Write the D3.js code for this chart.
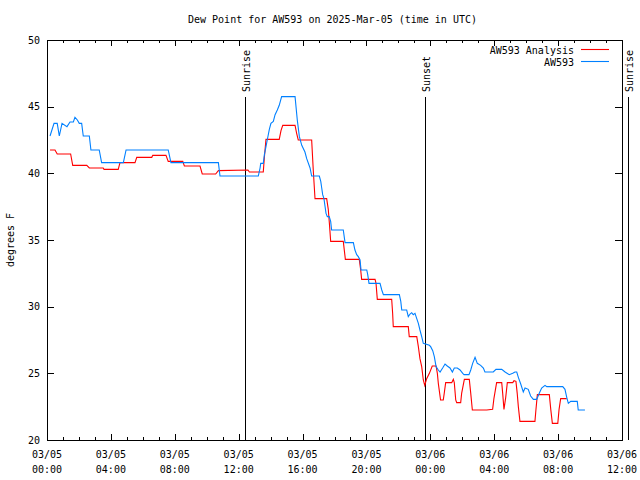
<!DOCTYPE html>
<html>
<head>
<meta charset="utf-8">
<script src="https://cdn.jsdelivr.net/npm/d3@7"></script>
<style>
  html, body { margin: 0; padding: 0; background: #fff; }
  svg { display: block; }
  text { font-family: "DejaVu Sans Mono", "Liberation Mono", monospace; font-size: 10px; fill: #000; }
</style>
</head>
<body>
<script>
// ---------------- DATA ----------------
const titleText = "Dew Point for AW593 on 2025-Mar-05 (time in UTC)";
const yLabelText = "degrees F";
const startUTC = Date.UTC(2025, 2, 5, 0, 0);   // 03/05 00:00 UTC
const spanHours = 36;

const xTickHours = [0, 4, 8, 12, 16, 20, 24, 28, 32, 36];
const xTickDates = ["03/05", "03/05", "03/05", "03/05", "03/05", "03/05", "03/06", "03/06", "03/06", "03/06"];
const xTickTimes = ["00:00", "04:00", "08:00", "12:00", "16:00", "20:00", "00:00", "04:00", "08:00", "12:00"];
const yTicks = [20, 25, 30, 35, 40, 45, 50];

const seriesNames = ["AW593 Analysis", "AW593"];
const seriesColors = ["#ff0000", "#0080ff"];

// AW593 Analysis (hours after 03/05 00:00 UTC, degrees F)
const analysisHours = [0.19, 0.50, 0.64, 1.48, 1.61, 2.49, 2.65, 3.52, 3.57, 4.46, 4.57, 5.51, 5.62, 6.56, 6.62, 7.45, 7.59, 8.50, 8.60, 9.58, 9.72, 10.56, 10.73, 12.58, 12.67, 13.54, 13.61, 13.71, 14.54, 14.65, 14.76, 15.53, 15.63, 15.73, 16.57, 16.67, 16.78, 17.51, 17.61, 17.68, 17.76, 18.55, 18.68, 19.55, 19.64, 19.70, 20.54, 20.60, 20.68, 21.58, 21.64, 21.68, 22.62, 22.68, 23.15, 23.25, 23.35, 23.46, 23.56, 23.65, 23.77, 23.94, 24.12, 24.36, 24.44, 24.50, 24.64, 24.81, 24.87, 24.96, 25.34, 25.44, 25.50, 25.59, 25.65, 25.90, 25.96, 26.13, 26.44, 26.53, 26.63, 27.53, 27.90, 27.98, 28.15, 28.47, 28.53, 28.61, 28.72, 28.82, 29.16, 29.24, 29.36, 29.44, 29.51, 29.61, 30.55, 30.61, 30.70, 31.45, 31.54, 31.64, 31.98, 32.06, 32.16, 32.54];
const analysisValues = [41.75, 41.75, 41.45, 41.45, 40.6, 40.6, 40.4, 40.4, 40.3, 40.3, 40.8, 40.8, 41.2, 41.2, 41.35, 41.35, 40.9, 40.9, 40.55, 40.55, 39.95, 39.95, 40.2, 40.25, 40.1, 40.1, 41.2, 42.55, 42.55, 43.2, 43.6, 43.6, 43.0, 42.5, 42.5, 40.25, 38.1, 38.1, 37.3, 36.25, 34.9, 34.9, 33.55, 33.55, 32.75, 32.05, 32.05, 31.75, 30.55, 30.55, 29.5, 28.5, 28.5, 27.75, 27.75, 27.0, 26.1, 25.5, 24.5, 24.1, 24.6, 25.0, 25.55, 25.55, 25.0, 24.25, 23.0, 23.0, 23.5, 24.3, 24.3, 24.55, 24.3, 23.0, 22.8, 22.8, 23.5, 24.55, 24.55, 23.5, 22.25, 22.25, 22.3, 23.1, 24.3, 24.3, 23.5, 22.3, 23.2, 24.3, 24.3, 24.45, 24.4, 23.5, 22.5, 21.4, 21.4, 22.25, 23.4, 23.4, 22.3, 21.25, 21.25, 22.3, 23.1, 23.1];

// AW593 observations
const stationHours = [0.19, 0.44, 0.64, 0.77, 0.94, 1.25, 1.44, 1.65, 1.75, 1.90, 2.02, 2.17, 2.27, 2.65, 2.75, 3.27, 3.42, 4.78, 4.95, 7.59, 7.76, 10.73, 10.83, 13.23, 13.34, 13.38, 13.54, 13.61, 13.71, 13.79, 13.92, 14.02, 14.17, 14.28, 14.42, 14.54, 14.69, 15.53, 15.67, 15.80, 15.95, 16.15, 16.26, 16.47, 16.57, 17.05, 17.14, 17.20, 17.26, 17.34, 17.41, 17.47, 17.55, 17.67, 17.76, 17.82, 18.55, 18.66, 19.18, 19.28, 19.39, 19.49, 19.60, 19.66, 20.02, 20.08, 20.16, 20.85, 20.96, 21.06, 22.06, 22.15, 22.21, 22.52, 22.62, 22.73, 22.83, 22.93, 23.04, 23.15, 23.25, 23.35, 23.46, 23.56, 23.94, 24.02, 24.15, 24.25, 24.36, 24.50, 24.61, 24.77, 24.92, 25.06, 25.23, 25.38, 25.50, 25.69, 25.86, 26.03, 26.11, 26.42, 26.53, 26.65, 26.80, 26.94, 27.15, 27.32, 27.42, 27.94, 28.11, 28.47, 28.68, 28.94, 29.16, 29.30, 29.41, 29.51, 29.66, 29.82, 29.93, 30.13, 30.28, 30.45, 30.66, 30.82, 30.97, 31.18, 31.29, 32.29, 32.43, 32.54, 32.64, 32.79, 33.20, 33.26, 33.68];
const stationValues = [42.8, 43.75, 43.75, 42.8, 43.75, 43.5, 43.85, 43.85, 44.2, 44.0, 43.75, 43.75, 42.8, 42.8, 41.75, 41.75, 40.8, 40.8, 41.75, 41.75, 40.8, 40.8, 39.8, 39.8, 40.4, 40.75, 40.75, 41.4, 42.0, 42.5, 43.3, 43.75, 43.9, 44.4, 44.75, 45.1, 45.75, 45.75, 44.0, 42.75, 42.1, 41.6, 41.1, 40.4, 39.8, 39.8, 39.4, 38.9, 38.4, 38.1, 37.5, 37.0, 36.75, 36.75, 36.4, 35.75, 35.75, 34.8, 34.8, 34.25, 33.9, 33.75, 33.5, 32.75, 32.75, 32.4, 31.75, 31.75, 31.25, 30.9, 30.9, 30.4, 29.75, 29.75, 29.25, 29.45, 29.55, 29.4, 29.5, 29.1, 28.75, 28.25, 27.75, 27.25, 27.1, 27.0, 26.7, 26.25, 25.5, 25.25, 25.1, 25.4, 25.7, 25.55, 25.4, 25.1, 25.4, 25.4, 25.25, 25.0, 24.9, 24.9, 25.25, 25.75, 26.2, 25.75, 25.6, 25.4, 25.1, 25.1, 25.3, 25.3, 25.1, 24.9, 25.0, 25.1, 25.1, 24.7, 24.2, 23.6, 23.9, 23.8, 23.3, 23.05, 23.05, 23.5, 23.9, 24.1, 24.0, 24.0, 23.8, 23.2, 22.75, 22.9, 22.9, 22.25, 22.25];

// Sun events
const eventNames = ["Sunrise", "Sunset", "Sunrise"];
const eventHours = [12.40, 23.67, 36.38];

// ---------------- CHART ----------------
const W = 640, H = 480;
const plot = { left: 47, right: 622, top: 40, bottom: 440 };
const toDate = h => new Date(startUTC + h * 3600e3);

const svg = d3.select("body").append("svg").attr("width", W).attr("height", H);

const x = d3.scaleUtc().domain([toDate(0), toDate(spanHours)]).range([plot.left, plot.right]);
const y = d3.scaleLinear().domain([20, 50]).range([plot.bottom, plot.top]);

const majorDates = xTickHours.map(toDate);
const minorDates = d3.range(0, spanHours + 1).filter(h => h % 4 !== 0).map(toDate);

function styleAxis(g) {
  g.select(".domain").remove();
  g.selectAll(".tick line").attr("stroke", "#000").attr("shape-rendering", "crispEdges");
}

// bottom major/minor
svg.append("g").attr("transform", `translate(0,${plot.bottom})`)
  .call(d3.axisBottom(x).tickValues(majorDates).tickSizeInner(-6).tickSizeOuter(0).tickFormat(""))
  .call(styleAxis).call(g => g.selectAll(".tick text").remove());
svg.append("g").attr("transform", `translate(0,${plot.bottom})`)
  .call(d3.axisBottom(x).tickValues(minorDates).tickSizeInner(-3).tickSizeOuter(0).tickFormat(""))
  .call(styleAxis).call(g => g.selectAll(".tick text").remove());
// top mirror
svg.append("g").attr("transform", `translate(0,${plot.top})`)
  .call(d3.axisTop(x).tickValues(majorDates).tickSizeInner(-6).tickSizeOuter(0).tickFormat(""))
  .call(styleAxis).call(g => g.selectAll(".tick text").remove());
svg.append("g").attr("transform", `translate(0,${plot.top})`)
  .call(d3.axisTop(x).tickValues(minorDates).tickSizeInner(-3).tickSizeOuter(0).tickFormat(""))
  .call(styleAxis).call(g => g.selectAll(".tick text").remove());

// x tick labels (two lines)
const xl = svg.append("g");
xTickHours.forEach((h, i) => {
  const t = xl.append("text").attr("x", x(toDate(h))).attr("text-anchor", "middle");
  t.append("tspan").attr("x", x(toDate(h))).attr("y", plot.bottom + 18).text(xTickDates[i]);
  t.append("tspan").attr("x", x(toDate(h))).attr("y", plot.bottom + 33).text(xTickTimes[i]);
});

// y axes
svg.append("g").attr("transform", `translate(${plot.left},0)`)
  .call(d3.axisLeft(y).tickValues(yTicks).tickSizeInner(-7).tickSizeOuter(0).tickPadding(7).tickFormat(d3.format("d")))
  .call(styleAxis)
  .call(g => g.selectAll(".tick text").attr("font-family", null).attr("font-size", null));
svg.append("g").attr("transform", `translate(${plot.right},0)`)
  .call(d3.axisRight(y).tickValues(yTicks).tickSizeInner(-7).tickSizeOuter(0).tickFormat(""))
  .call(styleAxis).call(g => g.selectAll(".tick text").remove());

// frame
svg.append("rect")
  .attr("x", plot.left).attr("y", plot.top)
  .attr("width", plot.right - plot.left).attr("height", plot.bottom - plot.top)
  .attr("fill", "none").attr("stroke", "#000").attr("stroke-width", 1)
  .attr("shape-rendering", "crispEdges");

// title and y label
svg.append("text").attr("x", (plot.left + plot.right) / 2 - 2).attr("y", 23)
  .attr("text-anchor", "middle").text(titleText);
svg.append("text").attr("transform", `translate(14,${(plot.top + plot.bottom) / 2}) rotate(-90)`)
  .attr("text-anchor", "middle").text(yLabelText);

// sun events
eventHours.forEach((h, i) => {
  const ex = Math.round(x(toDate(h))) + 0.5;
  svg.append("line").attr("x1", ex).attr("x2", ex).attr("y1", 97).attr("y2", plot.bottom)
    .attr("stroke", "#000").attr("stroke-width", 1);
  svg.append("text").attr("transform", `translate(${ex + 4},92) rotate(-90)`)
    .attr("text-anchor", "start").text(eventNames[i]);
});

// series
const line = d3.line().x(d => x(toDate(d[0]))).y(d => y(d[1]));
const analysis = analysisHours.map((h, i) => [h, analysisValues[i]]);
const station = stationHours.map((h, i) => [h, stationValues[i]]);

svg.append("path").datum(analysis).attr("d", line)
  .attr("fill", "none").attr("stroke", seriesColors[0]).attr("stroke-width", 1.1);
svg.append("path").datum(station).attr("d", line)
  .attr("fill", "none").attr("stroke", seriesColors[1]).attr("stroke-width", 1.1);

// legend
const legendY = [50, 62];
seriesNames.forEach((name, i) => {
  svg.append("text").attr("x", 574).attr("y", legendY[i] + 4).attr("text-anchor", "end").text(name);
  svg.append("line").attr("x1", 581).attr("x2", 609).attr("y1", legendY[i] - 0.5).attr("y2", legendY[i] - 0.5)
    .attr("stroke", seriesColors[i]).attr("stroke-width", 1.1);
});
</script>
</body>
</html>
